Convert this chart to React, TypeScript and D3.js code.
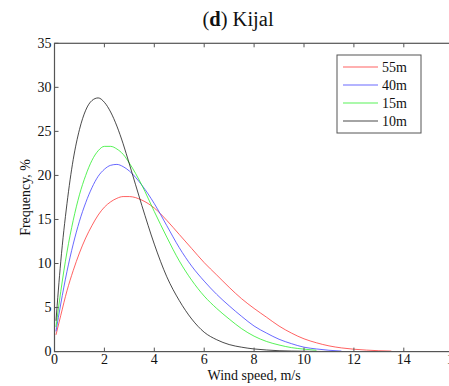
import React from "react";
import * as d3 from "d3";

const speeds = [0.06, 0.25, 0.5, 0.75, 1, 1.25, 1.5, 1.75, 2, 2.25, 2.5, 2.75, 3, 3.5, 4, 4.5, 5, 5.5, 6, 6.5, 7, 7.5, 8, 8.5, 9, 9.5, 10, 10.5, 11, 11.5, 12, 12.5, 13, 13.5, 14, 15, 16];

const freq55m = [1.9, 4.1, 6.9, 9.2, 11.2, 12.9, 14.3, 15.5, 16.4, 17.0, 17.4, 17.6, 17.6, 17.2, 16.3, 14.9, 13.3, 11.7, 10.1, 8.7, 7.3, 6.0, 4.9, 3.9, 2.9, 2.1, 1.45, 1.0, 0.65, 0.42, 0.27, 0.17, 0.1, 0.06, null, null, null];
const freq40m = [2.3, 5.4, 9.1, 12.2, 14.8, 16.9, 18.6, 19.9, 20.7, 21.15, 21.25, 21.0, 20.5, 18.9, 16.8, 14.3, 11.8, 9.7, 8.0, 6.5, 5.2, 4.0, 2.9, 2.1, 1.4, 0.9, 0.5, 0.3, 0.15, 0.06, null, null, null, null, null, null, null];
const freq15m = [2.8, 6.8, 11.3, 14.9, 17.8, 20.0, 21.7, 22.8, 23.3, 23.3, 23.0, 22.4, 21.4, 18.9, 15.9, 13.0, 10.3, 8.1, 6.3, 4.9, 3.7, 2.6, 1.75, 1.15, 0.75, 0.45, 0.28, 0.15, null, null, null, null, null, null, null, null, null];
const freq10m = [3.5, 10.2, 16.8, 21.8, 25.2, 27.4, 28.5, 28.8, 28.3, 27.2, 25.6, 23.6, 21.3, 16.6, 12.2, 8.5, 5.8, 3.7, 2.2, 1.35, 0.8, 0.5, 0.3, 0.18, 0.1, 0.06, 0.04, 0.02, 0.01, 0, 0, 0, 0, 0, 0, 0, 0];

const seriesNames = ["55m", "40m", "15m", "10m"];
const seriesColors = ["#ff3030", "#3a3aff", "#22ee22", "#111111"];
const seriesValues = [freq55m, freq40m, freq15m, freq10m];

const xTicks = [0, 2, 4, 6, 8, 10, 12, 14, 16];
const yTicks = [0, 5, 10, 15, 20, 25, 30, 35];

export default function App() {
  const W = 449, H = 386;
  const left = 54.5, right = 453.7, top = 43.3, bottom = 351.6;
  const x = d3.scaleLinear().domain([0, 16]).range([left, right]);
  const y = d3.scaleLinear().domain([0, 35]).range([bottom, top]);
  const font = "'Liberation Serif', 'Times New Roman', serif";
  const axisColor = "#555";
  const tickLen = 4;

  const line = d3
    .line<[number, number | null]>()
    .defined((d) => d[1] !== null)
    .x((d) => x(d[0]))
    .y((d) => y(d[1] as number))
    .curve(d3.curveMonotoneX);

  const legX = 337, legY = 55, legW = 84, legH = 78;

  return (
    <svg width={W} height={H} style={{ position: "absolute", left: 0, top: 0, background: "#fff" }}>
      <defs>
        <clipPath id="plotClip">
          <rect x={left} y={top} width={right - left} height={bottom - top} />
        </clipPath>
      </defs>
      <rect x={0} y={0} width={W} height={H} fill="#fff" />
      <text x={238} y={26} textAnchor="middle" fontFamily={font} fontSize={20.5} fill="#111">
        (<tspan fontWeight="bold">d</tspan>) Kijal
      </text>

      <g clipPath="url(#plotClip)">
        {seriesValues.map((vals, i) => (
          <path
            key={seriesNames[i]}
            d={line(speeds.map((s, j) => [s, vals[j]] as [number, number | null])) || ""}
            fill="none"
            stroke={seriesColors[i]}
            strokeWidth={0.9}
            strokeOpacity={0.85}
          />
        ))}
      </g>

      <rect x={left} y={top} width={right - left} height={bottom - top} fill="none" stroke={axisColor} strokeWidth={1.2} />

      {xTicks.map((t) => (
        <g key={"xt" + t}>
          <line x1={x(t)} x2={x(t)} y1={bottom} y2={bottom - tickLen} stroke={axisColor} />
          <line x1={x(t)} x2={x(t)} y1={top} y2={top + tickLen} stroke={axisColor} />
          <text x={x(t)} y={bottom + 12.5} textAnchor="middle" fontFamily={font} fontSize={14} fill="#111">
            {t}
          </text>
        </g>
      ))}
      {yTicks.map((t) => (
        <g key={"yt" + t}>
          <line x1={left} x2={left + tickLen} y1={y(t)} y2={y(t)} stroke={axisColor} />
          <line x1={right} x2={right - tickLen} y1={y(t)} y2={y(t)} stroke={axisColor} />
          <text x={left - 3} y={y(t) + 4.5} textAnchor="end" fontFamily={font} fontSize={14} fill="#111">
            {t}
          </text>
        </g>
      ))}

      <text x={(left + right) / 2} y={379.5} textAnchor="middle" fontFamily={font} fontSize={14} fill="#111">
        Wind speed, m/s
      </text>
      <text
        transform={`translate(30, ${(top + bottom) / 2}) rotate(-90)`}
        textAnchor="middle"
        fontFamily={font}
        fontSize={14}
        fill="#111"
      >
        Frequency, %
      </text>

      <rect x={legX} y={legY} width={legW} height={legH} fill="#fff" stroke={axisColor} strokeWidth={1} />
      {seriesNames.map((n, i) => {
        const cy = legY + 12 + i * 18;
        return (
          <g key={"leg" + n}>
            <line x1={343} x2={378} y1={cy} y2={cy} stroke={seriesColors[i]} strokeWidth={0.9} strokeOpacity={0.85} />
            <text x={382} y={cy + 4.5} fontFamily={font} fontSize={14} fill="#111">
              {n}
            </text>
          </g>
        );
      })}
    </svg>
  );
}
